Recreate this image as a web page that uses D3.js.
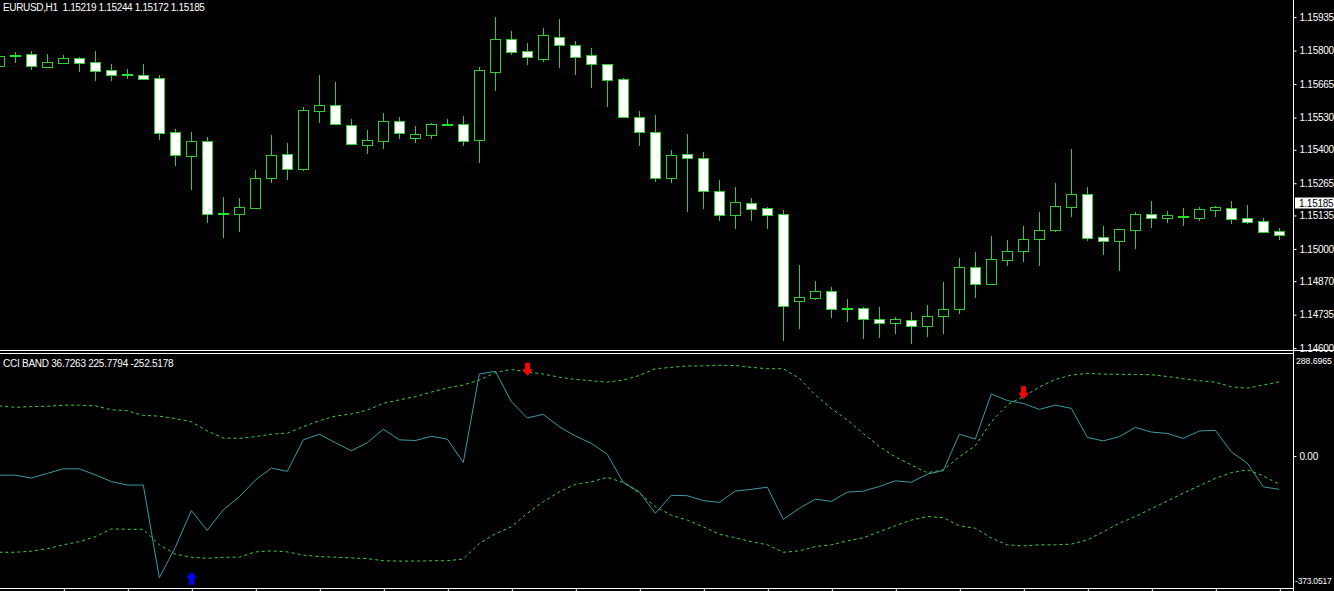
<!DOCTYPE html>
<html>
<head>
<meta charset="UTF-8">
<title>EURUSD,H1 CCI BAND</title>
<style>
body { margin: 0; background: #000; overflow: hidden; }
svg text { font-family: Tahoma, "Liberation Sans", Arial, sans-serif; font-size: 10px; fill: #fff; letter-spacing: -0.25px; white-space: pre; }
</style>
</head>
<body>
<div id="vis"></div>
<script src="https://d3js.org/d3.v7.min.js"></script>
<script>
// EURUSD H1 bars, oldest first
var barOpen = [1.15739,1.15779,1.15785,1.15735,1.15751,1.15769,1.15753,1.15720,1.15703,1.15700,
	1.15688,1.15470,1.15376,1.15434,1.15142,1.15142,1.15166,1.15287,1.15382,1.15324,
	1.15558,1.15579,1.15501,1.15420,1.15437,1.15515,1.15449,1.15461,1.15500,1.15503,
	1.15441,1.15715,1.15846,1.15797,1.15766,1.15854,1.15821,1.15781,1.15745,1.15684,
	1.15531,1.15470,1.15287,1.15382,1.15366,1.15232,1.15138,1.15187,1.15164,1.15140,
	1.14789,1.14803,1.14829,1.14759,1.14761,1.14716,1.14700,1.14715,1.14688,1.14728,
	1.14757,1.14926,1.14857,1.14957,1.14991,1.15039,1.15075,1.15170,1.15220,1.15047,
	1.15033,1.15078,1.15140,1.15126,1.15129,1.15126,1.15158,1.15166,1.15124,1.15112,1.15072];
var barHigh = [1.15786,1.15794,1.15798,1.15786,1.15782,1.15774,1.15798,1.15746,1.15726,1.15746,
	1.15702,1.15484,1.15472,1.15451,1.15210,1.15205,1.15318,1.15460,1.15427,1.15572,
	1.15702,1.15673,1.15523,1.15480,1.15548,1.15531,1.15496,1.15507,1.15524,1.15536,
	1.15734,1.15935,1.15879,1.15831,1.15891,1.15927,1.15839,1.15810,1.15745,1.15689,
	1.15555,1.15539,1.15399,1.15464,1.15390,1.15278,1.15250,1.15205,1.15169,1.15157,
	1.14935,1.14871,1.14845,1.14798,1.14766,1.14766,1.14726,1.14746,1.14774,1.14867,
	1.14962,1.14988,1.15051,1.15036,1.15093,1.15149,1.15266,1.15403,1.15250,1.15091,
	1.15079,1.15149,1.15193,1.15153,1.15165,1.15168,1.15172,1.15193,1.15177,1.15124,1.15083];
var barLow = [1.15734,1.15755,1.15727,1.15735,1.15751,1.15719,1.15681,1.15681,1.15691,1.15687,
	1.15445,1.15340,1.15243,1.15110,1.15047,1.15074,1.15166,1.15271,1.15283,1.15318,
	1.15513,1.15502,1.15422,1.15388,1.15408,1.15449,1.15433,1.15447,1.15500,1.15419,
	1.15351,1.15641,1.15786,1.15747,1.15758,1.15735,1.15707,1.15654,1.15578,1.15531,
	1.15420,1.15275,1.15271,1.15153,1.15166,1.15117,1.15086,1.15117,1.15086,1.14633,
	1.14682,1.14798,1.14727,1.14711,1.14642,1.14646,1.14662,1.14622,1.14650,1.14662,
	1.14740,1.14807,1.14857,1.14936,1.14953,1.14936,1.15071,1.15134,1.15037,1.14981,
	1.14916,1.15005,1.15090,1.15110,1.15098,1.15117,1.15133,1.15106,1.15106,1.15070,1.15040];
var barClose = [1.15778,1.15779,1.15739,1.15753,1.15769,1.15751,1.15719,1.15703,1.15703,1.15687,
	1.15469,1.15380,1.15434,1.15140,1.15142,1.15168,1.15285,1.15378,1.15324,1.15559,
	1.15581,1.15502,1.15422,1.15438,1.15515,1.15466,1.15462,1.15503,1.15500,1.15437,
	1.15720,1.15847,1.15796,1.15773,1.15862,1.15821,1.15775,1.15745,1.15683,1.15531,
	1.15473,1.15287,1.15378,1.15366,1.15232,1.15138,1.15188,1.15162,1.15138,1.14771,
	1.14805,1.14829,1.14757,1.14759,1.14716,1.14700,1.14716,1.14688,1.14728,1.14757,
	1.14926,1.14857,1.14958,1.14991,1.15039,1.15075,1.15172,1.15220,1.15045,1.15033,
	1.15079,1.15140,1.15126,1.15136,1.15129,1.15160,1.15168,1.15122,1.15110,1.15070,1.15056];

// CCI BAND indicator
var cciLine = [-54,-54,-62,-49,-36,-36,-53,-72,-82,-82,
	-344,-258,-154,-210,-152,-115,-68,-34,-43,46,
	62,38,15,38,76,46,44,56,48,-18,
	232,240,154,108,118,83,57,36,5,-74,
	-101,-162,-111,-112,-126,-131,-99,-94,-88,-179,
	-148,-122,-128,-102,-99,-86,-70,-74,-51,-41,
	62,48,176,157,149,132,144,135,53,43,
	55,81,68,64,50,71,73,12,-20,-87,-94];
var bandUp = [142,138,140,141,144,144,142,131,128,115,
	113,106,97,71,51,50,55,62,65,83,
	100,113,119,130,149,159,168,181,193,201,
	215,236,245,238,232,223,217,213,209,215,
	228,247,251,255,255,257,256,251,247,247,
	220,173,135,102,64,27,-2,-25,-47,-39,
	-2,29,97,145,168,195,217,229,234,232,
	231,231,230,225,219,213,209,196,192,201,210];
var bandDown = [-272,-272,-269,-262,-251,-242,-228,-206,-207,-207,
	-251,-277,-286,-289,-286,-286,-271,-268,-271,-280,
	-284,-286,-288,-290,-296,-297,-297,-296,-296,-291,
	-247,-220,-200,-162,-129,-101,-80,-73,-60,-75,
	-104,-143,-167,-181,-200,-221,-231,-242,-251,-272,
	-268,-256,-251,-240,-231,-214,-197,-181,-171,-174,
	-197,-204,-232,-251,-254,-251,-251,-249,-237,-214,
	-190,-171,-149,-127,-105,-84,-63,-47,-39,-56,-80];

// signal arrows
var signalBar = [33, 64, 12];
var signalValue = [245.5, 179.3, -345.6];
var signalType = ["sell", "sell", "buy"];

// labels
var headerOHLC = ["1.15219", "1.15244", "1.15172", "1.15185"];
var headerCCI = ["36.7263", "225.7794", "-252.5178"];
var priceTicks = [1.15935, 1.15800, 1.15665, 1.15530, 1.15400, 1.15265, 1.15135, 1.15000, 1.14870, 1.14735, 1.14600];
var cciMax = 288.6965, cciMin = -373.0517;
var lastPrice = 1.15185;

var width = 1334, height = 591, axisX = 1293;
var green = "#33cc33";

var svg = d3.select("#vis").append("svg")
	.attr("width", width)
	.attr("height", height)
	.style("display", "block")
	.style("background", "#000");

var x = d3.scaleLinear().domain([0, barOpen.length - 1]).range([-0.7, 1279.3]);
var yPrice = d3.scaleLinear().domain([1.145924, 1.16004]).range([350, 0]);
var yCci = d3.scaleLinear().domain([cciMin, cciMax]).range([588, 354]);

svg.append("clipPath").attr("id", "plotclip")
	.append("rect").attr("x", 0).attr("y", 0).attr("width", axisX).attr("height", height);

// ---- candles
var bars = d3.range(barOpen.length);
var candles = svg.append("g").attr("clip-path", "url(#plotclip)");

candles.selectAll("line.wick")
	.data(bars)
	.enter()
	.append("line")
	.attr("class", "wick")
	.attr("x1", function(i) { return Math.round(x(i)) + 0.5; })
	.attr("x2", function(i) { return Math.round(x(i)) + 0.5; })
	.attr("y1", function(i) { return Math.round(yPrice(barHigh[i])); })
	.attr("y2", function(i) { return Math.round(yPrice(barLow[i])) + 1; })
	.attr("stroke", green)
	.attr("stroke-width", 1);

candles.selectAll("rect.body")
	.data(bars.filter(function(i) { return barOpen[i] != barClose[i]; }))
	.enter()
	.append("rect")
	.attr("class", "body")
	.attr("x", function(i) { return Math.round(x(i)) - 4.5; })
	.attr("width", 10)
	.attr("y", function(i) { return Math.round(yPrice(Math.max(barOpen[i], barClose[i]))) + 0.5; })
	.attr("height", function(i) {
		var h = Math.round(yPrice(Math.min(barOpen[i], barClose[i]))) - Math.round(yPrice(Math.max(barOpen[i], barClose[i])));
		return Math.max(h, 2);
	})
	.attr("fill", function(i) { return barClose[i] < barOpen[i] ? "#ffffff" : "#000000"; })
	.attr("stroke", green)
	.attr("stroke-width", 1);

// doji bars are a flat line
candles.selectAll("line.doji")
	.data(bars.filter(function(i) { return barOpen[i] == barClose[i]; }))
	.enter()
	.append("line")
	.attr("class", "doji")
	.attr("x1", function(i) { return Math.round(x(i)) - 5; })
	.attr("x2", function(i) { return Math.round(x(i)) + 6; })
	.attr("y1", function(i) { return Math.round(yPrice(barClose[i])); })
	.attr("y2", function(i) { return Math.round(yPrice(barClose[i])); })
	.attr("stroke", "#22e622")
	.attr("stroke-width", 2);

// ---- indicator lines
var ind = svg.append("g").attr("clip-path", "url(#plotclip)");
function lineFor(arr) {
	return d3.line()
		.x(function(d, i) { return x(i); })
		.y(function(d) { return yCci(d); })(arr);
}
ind.append("path").attr("d", lineFor(bandUp))
	.attr("fill", "none").attr("stroke", "#3fd23f").attr("stroke-width", 1).attr("stroke-dasharray", "3,3");
ind.append("path").attr("d", lineFor(bandDown))
	.attr("fill", "none").attr("stroke", "#3fd23f").attr("stroke-width", 1).attr("stroke-dasharray", "3,3");
ind.append("path").attr("d", lineFor(cciLine))
	.attr("fill", "none").attr("stroke", "#3a9aa6").attr("stroke-width", 1);

// arrows
ind.selectAll("path.signal")
	.data(d3.range(signalBar.length))
	.enter()
	.append("path")
	.attr("class", "signal")
	.attr("d", function(k) {
		var cx = Math.round(x(signalBar[k])) + 0.5, cy = yCci(signalValue[k]);
		var s = signalType[k] == "sell" ? 1 : -1;
		return "M" + (cx - 2.5) + "," + (cy - 6.5 * s) +
			"H" + (cx + 2.5) + "V" + cy + "H" + (cx + 5.5) +
			"L" + cx + "," + (cy + 6.5 * s) +
			"L" + (cx - 5.5) + "," + cy + "H" + (cx - 2.5) + "Z";
	})
	.attr("fill", function(k) { return signalType[k] == "sell" ? "#ff0000" : "#0000ff"; });

// ---- frame lines
svg.append("line").attr("x1", 0).attr("x2", width).attr("y1", 350.5).attr("y2", 350.5).attr("stroke", "#fff");
svg.append("line").attr("x1", 0).attr("x2", axisX).attr("y1", 353.5).attr("y2", 353.5).attr("stroke", "#fff");
svg.append("line").attr("x1", 0).attr("x2", axisX).attr("y1", 588.5).attr("y2", 588.5).attr("stroke", "#fff");
svg.append("line").attr("x1", axisX + 0.5).attr("x2", axisX + 0.5).attr("y1", 0).attr("y2", height).attr("stroke", "#fff");

// ---- axes
function styleAxis(g) {
	g.select(".domain").remove();
	g.selectAll(".tick line").attr("stroke", "#fff");
	g.selectAll(".tick text").attr("fill", "#fff").attr("font-family", null).attr("font-size", null);
}

svg.append("g")
	.attr("transform", "translate(" + (axisX + 0.5) + ",0)")
	.call(d3.axisRight(yPrice).tickValues(priceTicks).tickFormat(d3.format(".5f")).tickSize(3).tickPadding(3))
	.call(styleAxis);

svg.append("g")
	.attr("transform", "translate(" + (axisX + 0.5) + ",0)")
	.call(d3.axisRight(yCci).tickValues([0]).tickFormat(d3.format(".2f")).tickSize(3).tickPadding(3))
	.call(styleAxis);

svg.append("g")
	.attr("transform", "translate(0,588.5)")
	.call(d3.axisBottom(x).tickValues(d3.range(4, barOpen.length, 4)).tickFormat("").tickSize(3).tickSizeOuter(0))
	.call(styleAxis)
	.selectAll(".tick line").attr("transform", "translate(0.5,0)");

// indicator scale limits, sized to fit the narrow price column
svg.append("text").attr("x", axisX + 3).attr("y", yCci(cciMax) + 10)
	.style("letter-spacing", "-0.1px").style("font-size", "8.8px")
	.text(cciMax.toFixed(4));
svg.append("text").attr("x", axisX + 2).attr("y", yCci(cciMin) - 4)
	.style("letter-spacing", "-0.2px").style("font-size", "8.5px")
	.text(cciMin.toFixed(4));

// last price box
svg.append("rect")
	.attr("x", axisX + 2).attr("y", Math.round(yPrice(lastPrice)) - 5.5)
	.attr("width", width - axisX - 2).attr("height", 11)
	.attr("fill", "#fff");
svg.append("text")
	.attr("x", axisX + 6).attr("y", yPrice(lastPrice))
	.attr("dy", "0.35em")
	.style("fill", "#000")
	.text(d3.format(".5f")(lastPrice));

// ---- headers
svg.append("text").attr("x", 3).attr("y", 10.5).style("letter-spacing", "-0.35px").text("EURUSD,H1  " + headerOHLC.join(" "));
svg.append("text").attr("x", 3).attr("y", 366.5).text("CCI BAND " + headerCCI.join(" "));
</script>
</body>
</html>
